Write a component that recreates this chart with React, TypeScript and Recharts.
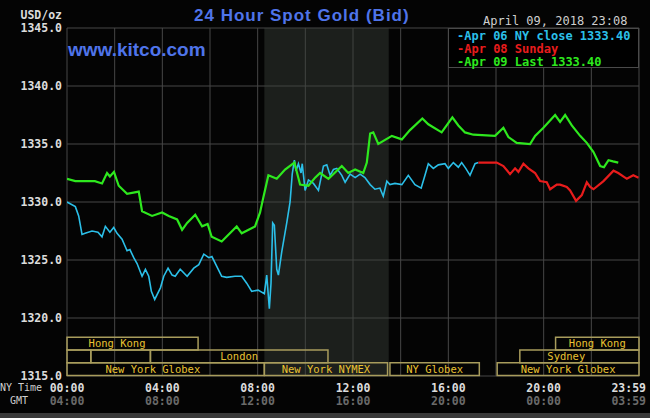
import { LineChart, Line, XAxis, YAxis, CartesianGrid, ReferenceArea, ReferenceDot, Legend } from 'recharts';

// hours since 00:00 NY time, price in USD/oz
const apr06Close = [
  [0, 1330.0], [0.35, 1329.6], [0.49, 1328.8], [0.63, 1327.2], [0.76, 1327.3], [1.05, 1327.5],
  [1.3, 1327.4], [1.47, 1327.0], [1.61, 1327.9], [1.8, 1327.4], [1.96, 1327.8], [2.1, 1327.3],
  [2.31, 1326.8], [2.52, 1325.8], [2.64, 1325.9], [2.8, 1325.2], [2.94, 1324.7], [3.15, 1323.6],
  [3.29, 1324.2], [3.43, 1323.6], [3.54, 1322.3], [3.68, 1321.6], [3.92, 1322.6], [4.06, 1323.6],
  [4.24, 1324.3], [4.41, 1323.7], [4.54, 1323.6], [4.75, 1324.2], [5.04, 1323.6], [5.32, 1324.3],
  [5.53, 1324.6], [5.74, 1325.5], [5.95, 1325.2], [6.08, 1325.3], [6.49, 1323.6], [6.7, 1323.5],
  [7.05, 1323.6], [7.33, 1323.6], [7.54, 1323.0], [7.75, 1322.3], [8.02, 1322.4], [8.28, 1322.1],
  [8.38, 1323.7], [8.49, 1320.8], [8.56, 1323.0], [8.63, 1328.2], [8.7, 1328.0], [8.8, 1324.2],
  [8.87, 1323.7], [9.01, 1325.7], [9.22, 1328.2], [9.36, 1330.0], [9.45, 1332.4], [9.54, 1333.6],
  [9.61, 1332.7], [9.71, 1333.3], [9.82, 1332.5], [9.87, 1333.3], [9.99, 1331.0], [10.13, 1331.9],
  [10.34, 1331.6], [10.55, 1331.0], [10.76, 1333.1], [10.9, 1333.2], [11.04, 1332.3], [11.18, 1332.8],
  [11.32, 1332.9], [11.53, 1332.3], [11.67, 1331.7], [11.88, 1332.4], [12.09, 1332.1], [12.3, 1332.4],
  [12.5, 1332.1], [12.72, 1331.5], [12.92, 1331.1], [13.13, 1331.2], [13.27, 1330.5], [13.42, 1331.8],
  [13.55, 1331.5], [13.76, 1331.6], [14.05, 1331.5], [14.32, 1332.3], [14.6, 1331.5], [14.86, 1331.2],
  [15.02, 1332.3], [15.16, 1333.3], [15.37, 1332.9], [15.58, 1333.2], [15.86, 1333.3], [16.0, 1332.9],
  [16.21, 1333.4], [16.42, 1333.0], [16.56, 1333.4], [16.73, 1332.9], [16.91, 1332.3], [17.12, 1333.3],
  [17.26, 1333.4],
];

const apr08Sunday = [
  [17.26, 1333.4], [18.03, 1333.4], [18.31, 1333.1], [18.59, 1332.4], [18.8, 1332.9], [18.94, 1332.6],
  [19.15, 1333.3], [19.36, 1332.9], [19.64, 1332.5], [19.85, 1331.8], [20.13, 1331.7], [20.27, 1331.1],
  [20.55, 1331.5], [20.69, 1331.5], [20.97, 1331.3], [21.11, 1331.0], [21.36, 1330.1], [21.6, 1330.6],
  [21.81, 1331.7], [21.95, 1331.3], [22.09, 1331.1], [22.51, 1331.8], [22.93, 1332.7], [23.13, 1332.5],
  [23.49, 1332.0], [23.76, 1332.3], [23.98, 1332.1],
];

const apr09Last = [
  [0, 1332.0], [0.35, 1331.8], [1.17, 1331.8], [1.47, 1331.6], [1.68, 1332.5], [1.8, 1332.2],
  [1.97, 1332.6], [2.17, 1331.4], [2.52, 1330.7], [3.01, 1330.9], [3.15, 1329.2], [3.57, 1328.8],
  [3.99, 1329.1], [4.27, 1328.8], [4.62, 1328.5], [4.83, 1327.6], [5.04, 1328.2], [5.38, 1328.9],
  [5.67, 1327.9], [5.9, 1328.1], [6.07, 1327.0], [6.49, 1326.6], [7.12, 1327.9], [7.33, 1327.3],
  [7.89, 1327.9], [8.1, 1329.1], [8.24, 1330.4], [8.45, 1332.3], [8.8, 1332.0], [9.15, 1332.8],
  [9.54, 1333.4], [9.78, 1331.5], [10.13, 1331.4], [10.41, 1332.1], [10.62, 1332.5], [10.97, 1332.0],
  [11.53, 1333.1], [11.8, 1332.5], [12.09, 1332.8], [12.43, 1332.5], [12.58, 1333.4], [12.72, 1335.9],
  [12.85, 1336.0], [13.06, 1335.0], [13.63, 1335.7], [14.05, 1335.4], [14.39, 1336.2], [14.91, 1337.2],
  [15.16, 1336.7], [15.72, 1336.0], [16.17, 1337.3], [16.42, 1336.6], [16.7, 1336.0], [17.05, 1335.8],
  [17.96, 1335.7], [18.31, 1336.4], [18.52, 1335.6], [18.87, 1335.1], [19.43, 1335.0], [19.64, 1335.7],
  [19.99, 1336.4], [20.48, 1337.5], [20.69, 1336.9], [20.9, 1337.5], [21.18, 1336.6], [21.53, 1335.7],
  [21.81, 1335.1], [22.09, 1334.3], [22.37, 1333.1], [22.53, 1333.0], [22.72, 1333.6], [22.91, 1333.5],
  [23.13, 1333.4],
];

const series = [
  { name: 'Apr 06 NY close 1333.40', color: '#2bbfe8', width: 1.6, points: apr06Close },
  { name: 'Apr 08 Sunday', color: '#e81c1c', width: 2.2, points: apr08Sunday },
  { name: 'Apr 09 Last 1333.40', color: '#2ee81e', width: 2.2, points: apr09Last },
];

const priceTicks = [1315, 1320, 1325, 1330, 1335, 1340, 1345];
const hourTicks = [0, 2, 4, 6, 8, 10, 12, 14, 16, 18, 20, 22, 24];
const nyTimeLabels: Record<number, string> = { 0: '00:00', 4: '04:00', 8: '08:00', 12: '12:00', 16: '16:00', 20: '20:00', 24: '23:59' };
const gmtLabels: Record<number, string> = { 0: '04:00', 4: '08:00', 8: '12:00', 12: '16:00', 16: '20:00', 20: '00:00', 24: '03:59' };

// NYMEX pit hours (shaded)
const nymexHours = [8.28, 13.5];

// trading sessions strip along the bottom of the plot
const sessionRows = [[1317.25, 1318.35], [1316.15, 1317.25], [1315.05, 1316.15]];
const sessions = [
  { name: 'Hong Kong', start: 0, end: 5.5, row: 0, labelAt: 2.1 },
  { name: 'Hong Kong', start: 20.5, end: 24, row: 0 },
  { name: '', start: 0, end: 1, row: 1 },
  { name: '', start: 1, end: 3.5, row: 1 },
  { name: 'London', start: 3.5, end: 10.95, row: 1 },
  { name: 'Sydney', start: 19, end: 24, row: 1, labelAt: 20.95 },
  { name: 'New York Globex', start: 0, end: 8.28, row: 2, labelAt: 3.6 },
  { name: 'New York NYMEX', start: 8.28, end: 13.45, row: 2 },
  { name: 'NY Globex', start: 13.55, end: 17.3, row: 2 },
  { name: 'New York Globex', start: 18.05, end: 24, row: 2 },
];

const MONO = '"DejaVu Sans Mono", monospace';

const HourTick = (props: any) => {
  const { x, y, payload } = props;
  const v = payload.value;
  if (!(v in nyTimeLabels)) return <g />;
  const last = v === 24;
  return (
    <g>
      <text x={last ? x + 7 : x} y={y + 16} textAnchor={last ? 'end' : 'middle'} fill="#dcdcdc"
        fontFamily={MONO} fontWeight="bold" fontSize={11.5}>{nyTimeLabels[v]}</text>
      <text x={last ? x + 7 : x} y={y + 29} textAnchor={last ? 'end' : 'middle'} fill="#6a6a6a"
        fontFamily={MONO} fontWeight="bold" fontSize={11.5}>{gmtLabels[v]}</text>
    </g>
  );
};

const LegendBox = () => (
  <div style={{ width: 191, height: 40, background: '#000', border: '1px solid #4a4a4a', boxSizing: 'border-box', paddingLeft: 8, paddingTop: 1 }}>
    {series.map((s) => (
      <div key={s.name} style={{ color: s.color, fontFamily: MONO, fontWeight: 'bold', fontSize: 12, lineHeight: '13px', whiteSpace: 'pre', textAlign: 'left' }}>
        -{s.name}
      </div>
    ))}
  </div>
);

export default function App() {
  return (
    <div style={{ position: 'relative', width: 650, height: 418, background: '#040404', overflow: 'hidden' }}>
      <style>{'body{margin:0}'}</style>
      <LineChart width={650} height={418} margin={{ top: 28, right: 11, bottom: 12, left: 0 }}>
        <CartesianGrid stroke="#474747" strokeWidth={1} />
        <ReferenceArea x1={nymexHours[0]} x2={nymexHours[1]} fill="#3a403a" fillOpacity={0.45} />
        <XAxis dataKey="h" type="number" domain={[0, 24]} ticks={hourTicks} interval={0} height={30}
          tickLine={false} axisLine={false} tickSize={0} tickMargin={0} tick={<HourTick />} allowDataOverflow />
        <YAxis type="number" domain={[1315, 1345]} ticks={priceTicks} interval={0} width={67}
          tickLine={false} axisLine={false} tickSize={0} tickMargin={5}
          tickFormatter={(v: number) => v.toFixed(1)}
          tick={{ fill: '#dcdcdc', fontSize: 11.5, fontFamily: MONO, fontWeight: 'bold' }} />
        {sessions.map((s, i) => (
          <ReferenceArea key={'s' + i} x1={s.start} x2={s.end} y1={sessionRows[s.row][0]} y2={sessionRows[s.row][1]}
            fill="none" stroke="#a89c5c" strokeWidth={1.5} ifOverflow="visible" />
        ))}
        {sessions.filter((s) => s.name).map((s, i) => (
          <ReferenceDot key={'l' + i} x={s.labelAt ?? (s.start + s.end) / 2}
            y={(sessionRows[s.row][0] + sessionRows[s.row][1]) / 2} r={0} stroke="none" fill="none"
            label={{ value: s.name, position: 'center', fill: '#e9c232', fontSize: 10.5, fontFamily: MONO }} />
        ))}
        {series.map((s) => (
          <Line key={s.name} name={s.name} data={s.points.map(([h, p]) => ({ h, p }))} dataKey="p"
            type="linear" stroke={s.color} strokeWidth={s.width} dot={false} isAnimationActive={false} />
        ))}
        <Legend layout="horizontal" verticalAlign="middle" align="center" content={() => <LegendBox />}
          wrapperStyle={{ left: 448, top: 28, width: 191, height: 40 }} />
      </LineChart>

      <div style={{ position: 'absolute', left: 0, width: 62, top: 9, textAlign: 'right', color: '#dcdcdc', fontFamily: MONO, fontWeight: 'bold', fontSize: 11.5, lineHeight: '12px' }}>USD/oz</div>
      <div style={{ position: 'absolute', left: 194, top: 6, color: '#4f74ea', fontFamily: '"Liberation Sans", Arial, sans-serif', fontWeight: 'bold', fontSize: 17, letterSpacing: 1, lineHeight: '20px', whiteSpace: 'nowrap' }}>24 Hour Spot Gold (Bid)</div>
      <div style={{ position: 'absolute', left: 68, top: 39, color: '#4f74ea', fontFamily: '"Liberation Sans", Arial, sans-serif', fontWeight: 'bold', fontSize: 19, lineHeight: '22px', whiteSpace: 'nowrap' }}>www.kitco.com</div>
      <div style={{ position: 'absolute', left: 483, top: 14, color: '#cfcfcf', fontFamily: MONO, fontSize: 12, lineHeight: '14px', whiteSpace: 'pre' }}>April 09, 2018 23:08</div>
      <div style={{ position: 'absolute', left: 0, top: 382, color: '#cfcfcf', fontFamily: MONO, fontSize: 10, lineHeight: '12px', whiteSpace: 'pre' }}>NY Time</div>
      <div style={{ position: 'absolute', left: 10, top: 395, color: '#cfcfcf', fontFamily: MONO, fontSize: 10, lineHeight: '12px', whiteSpace: 'pre' }}>GMT</div>
      <div style={{ position: 'absolute', left: 0, top: 413, width: 650, height: 5, background: '#3a3a3a' }} />
    </div>
  );
}
